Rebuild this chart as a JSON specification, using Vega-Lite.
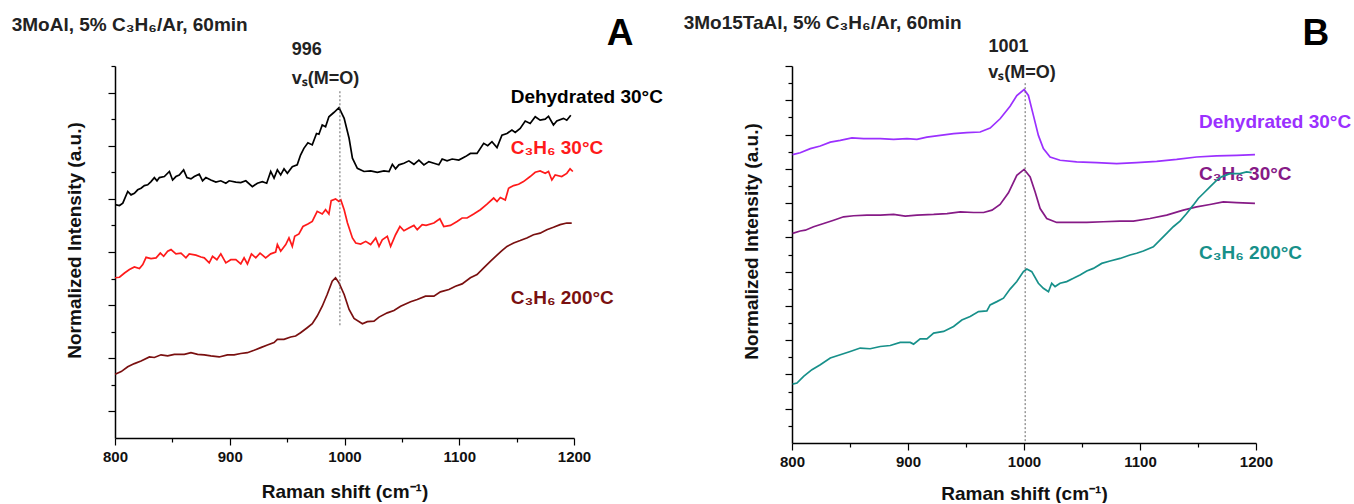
{
"$schema":"https://vega.github.io/schema/vega-lite/v6.json",
"padding":{"left":11,"top":13,"right":0,"bottom":0},
"bounds":"flush",
"spacing":218,
"config":{"view":{"stroke":null},"axis":{"grid":false,"domainColor":"#000","domainWidth":1.5,"tickColor":"#000","tickWidth":1.2,"labelFont":"Liberation Sans","labelFontSize":15,"labelFontWeight":"bold","labelColor":"#111","titleFont":"Liberation Sans","titleFontSize":19,"titleFontWeight":"bold","titleColor":"#111"}},
"resolve":{"scale":{"x":"independent","y":"independent","color":"independent"}},
"datasets":{
"curvesA":[
{"s":"Dehydrated 30°C","x":800.1,"y":8.78},{"s":"Dehydrated 30°C","x":803.9,"y":8.75},{"s":"Dehydrated 30°C","x":806.8,"y":8.84},{"s":"Dehydrated 30°C","x":811.1,"y":9.28},{"s":"Dehydrated 30°C","x":814.0,"y":9.15},{"s":"Dehydrated 30°C","x":816.9,"y":9.21},{"s":"Dehydrated 30°C","x":819.8,"y":9.34},{"s":"Dehydrated 30°C","x":822.7,"y":9.4},{"s":"Dehydrated 30°C","x":825.6,"y":9.5},{"s":"Dehydrated 30°C","x":828.5,"y":9.53},{"s":"Dehydrated 30°C","x":831.4,"y":9.65},{"s":"Dehydrated 30°C","x":834.3,"y":9.8},{"s":"Dehydrated 30°C","x":836.6,"y":9.68},{"s":"Dehydrated 30°C","x":838.7,"y":9.8},{"s":"Dehydrated 30°C","x":843.0,"y":9.84},{"s":"Dehydrated 30°C","x":847.4,"y":10.03},{"s":"Dehydrated 30°C","x":850.2,"y":9.71},{"s":"Dehydrated 30°C","x":853.1,"y":9.84},{"s":"Dehydrated 30°C","x":856.0,"y":9.9},{"s":"Dehydrated 30°C","x":859.8,"y":10.09},{"s":"Dehydrated 30°C","x":862.7,"y":9.8},{"s":"Dehydrated 30°C","x":866.2,"y":9.75},{"s":"Dehydrated 30°C","x":869.1,"y":9.84},{"s":"Dehydrated 30°C","x":873.4,"y":9.93},{"s":"Dehydrated 30°C","x":876.3,"y":9.68},{"s":"Dehydrated 30°C","x":879.2,"y":9.8},{"s":"Dehydrated 30°C","x":883.5,"y":9.71},{"s":"Dehydrated 30°C","x":887.9,"y":9.63},{"s":"Dehydrated 30°C","x":892.2,"y":9.68},{"s":"Dehydrated 30°C","x":896.6,"y":9.59},{"s":"Dehydrated 30°C","x":899.5,"y":9.68},{"s":"Dehydrated 30°C","x":905.3,"y":9.63},{"s":"Dehydrated 30°C","x":909.6,"y":9.61},{"s":"Dehydrated 30°C","x":914.0,"y":9.68},{"s":"Dehydrated 30°C","x":919.7,"y":9.46},{"s":"Dehydrated 30°C","x":924.1,"y":9.59},{"s":"Dehydrated 30°C","x":928.4,"y":9.65},{"s":"Dehydrated 30°C","x":932.2,"y":9.59},{"s":"Dehydrated 30°C","x":935.7,"y":10.03},{"s":"Dehydrated 30°C","x":938.6,"y":9.78},{"s":"Dehydrated 30°C","x":941.5,"y":10.09},{"s":"Dehydrated 30°C","x":944.4,"y":9.9},{"s":"Dehydrated 30°C","x":947.3,"y":10.13},{"s":"Dehydrated 30°C","x":950.2,"y":9.96},{"s":"Dehydrated 30°C","x":954.5,"y":10.21},{"s":"Dehydrated 30°C","x":958.8,"y":10.28},{"s":"Dehydrated 30°C","x":961.7,"y":10.65},{"s":"Dehydrated 30°C","x":964.6,"y":10.9},{"s":"Dehydrated 30°C","x":968.1,"y":11.11},{"s":"Dehydrated 30°C","x":971.9,"y":11.03},{"s":"Dehydrated 30°C","x":975.6,"y":11.46},{"s":"Dehydrated 30°C","x":977.7,"y":11.43},{"s":"Dehydrated 30°C","x":980.6,"y":11.78},{"s":"Dehydrated 30°C","x":983.5,"y":11.71},{"s":"Dehydrated 30°C","x":986.4,"y":12.09},{"s":"Dehydrated 30°C","x":990.7,"y":12.25},{"s":"Dehydrated 30°C","x":995.2,"y":12.43},{"s":"Dehydrated 30°C","x":999.7,"y":12.03},{"s":"Dehydrated 30°C","x":1004.0,"y":11.28},{"s":"Dehydrated 30°C","x":1006.9,"y":10.53},{"s":"Dehydrated 30°C","x":1011.2,"y":10.15},{"s":"Dehydrated 30°C","x":1017.0,"y":10.03},{"s":"Dehydrated 30°C","x":1022.8,"y":10.05},{"s":"Dehydrated 30°C","x":1028.6,"y":10.0},{"s":"Dehydrated 30°C","x":1034.4,"y":10.05},{"s":"Dehydrated 30°C","x":1038.8,"y":10.03},{"s":"Dehydrated 30°C","x":1041.7,"y":10.3},{"s":"Dehydrated 30°C","x":1044.5,"y":10.13},{"s":"Dehydrated 30°C","x":1047.4,"y":10.28},{"s":"Dehydrated 30°C","x":1051.8,"y":10.34},{"s":"Dehydrated 30°C","x":1056.1,"y":10.43},{"s":"Dehydrated 30°C","x":1060.5,"y":10.3},{"s":"Dehydrated 30°C","x":1064.8,"y":10.46},{"s":"Dehydrated 30°C","x":1069.2,"y":10.28},{"s":"Dehydrated 30°C","x":1073.5,"y":10.4},{"s":"Dehydrated 30°C","x":1077.9,"y":10.34},{"s":"Dehydrated 30°C","x":1082.2,"y":10.28},{"s":"Dehydrated 30°C","x":1085.1,"y":10.5},{"s":"Dehydrated 30°C","x":1089.4,"y":10.43},{"s":"Dehydrated 30°C","x":1093.8,"y":10.5},{"s":"Dehydrated 30°C","x":1099.6,"y":10.46},{"s":"Dehydrated 30°C","x":1105.4,"y":10.59},{"s":"Dehydrated 30°C","x":1109.7,"y":10.71},{"s":"Dehydrated 30°C","x":1115.5,"y":10.71},{"s":"Dehydrated 30°C","x":1121.3,"y":11.09},{"s":"Dehydrated 30°C","x":1124.8,"y":11.0},{"s":"Dehydrated 30°C","x":1128.5,"y":11.15},{"s":"Dehydrated 30°C","x":1132.9,"y":10.93},{"s":"Dehydrated 30°C","x":1137.2,"y":11.4},{"s":"Dehydrated 30°C","x":1141.6,"y":11.46},{"s":"Dehydrated 30°C","x":1145.9,"y":11.59},{"s":"Dehydrated 30°C","x":1148.8,"y":11.5},{"s":"Dehydrated 30°C","x":1153.1,"y":11.65},{"s":"Dehydrated 30°C","x":1157.5,"y":11.93},{"s":"Dehydrated 30°C","x":1161.8,"y":11.84},{"s":"Dehydrated 30°C","x":1166.2,"y":12.09},{"s":"Dehydrated 30°C","x":1170.5,"y":11.96},{"s":"Dehydrated 30°C","x":1174.9,"y":12.0},{"s":"Dehydrated 30°C","x":1177.8,"y":12.11},{"s":"Dehydrated 30°C","x":1182.1,"y":11.78},{"s":"Dehydrated 30°C","x":1185.0,"y":11.93},{"s":"Dehydrated 30°C","x":1190.8,"y":12.03},{"s":"Dehydrated 30°C","x":1193.7,"y":11.96},{"s":"Dehydrated 30°C","x":1197.2,"y":12.15},
{"s":"C₃H₆ 30°C","x":800.1,"y":6.03},{"s":"C₃H₆ 30°C","x":803.9,"y":6.05},{"s":"C₃H₆ 30°C","x":808.3,"y":6.21},{"s":"C₃H₆ 30°C","x":812.6,"y":6.34},{"s":"C₃H₆ 30°C","x":816.9,"y":6.44},{"s":"C₃H₆ 30°C","x":821.3,"y":6.38},{"s":"C₃H₆ 30°C","x":824.2,"y":6.53},{"s":"C₃H₆ 30°C","x":827.1,"y":6.8},{"s":"C₃H₆ 30°C","x":831.4,"y":6.75},{"s":"C₃H₆ 30°C","x":835.8,"y":6.78},{"s":"C₃H₆ 30°C","x":839.5,"y":6.96},{"s":"C₃H₆ 30°C","x":842.4,"y":6.84},{"s":"C₃H₆ 30°C","x":845.9,"y":7.03},{"s":"C₃H₆ 30°C","x":848.8,"y":7.09},{"s":"C₃H₆ 30°C","x":853.1,"y":6.93},{"s":"C₃H₆ 30°C","x":857.5,"y":6.96},{"s":"C₃H₆ 30°C","x":861.8,"y":6.78},{"s":"C₃H₆ 30°C","x":864.7,"y":6.93},{"s":"C₃H₆ 30°C","x":870.5,"y":6.88},{"s":"C₃H₆ 30°C","x":874.9,"y":6.81},{"s":"C₃H₆ 30°C","x":877.8,"y":6.78},{"s":"C₃H₆ 30°C","x":882.1,"y":6.59},{"s":"C₃H₆ 30°C","x":885.0,"y":6.84},{"s":"C₃H₆ 30°C","x":888.8,"y":6.71},{"s":"C₃H₆ 30°C","x":892.2,"y":6.93},{"s":"C₃H₆ 30°C","x":896.6,"y":6.59},{"s":"C₃H₆ 30°C","x":900.9,"y":6.71},{"s":"C₃H₆ 30°C","x":905.3,"y":6.71},{"s":"C₃H₆ 30°C","x":909.6,"y":6.55},{"s":"C₃H₆ 30°C","x":912.5,"y":6.78},{"s":"C₃H₆ 30°C","x":915.4,"y":6.55},{"s":"C₃H₆ 30°C","x":918.9,"y":6.93},{"s":"C₃H₆ 30°C","x":922.7,"y":6.78},{"s":"C₃H₆ 30°C","x":926.4,"y":6.96},{"s":"C₃H₆ 30°C","x":931.3,"y":6.78},{"s":"C₃H₆ 30°C","x":935.7,"y":6.93},{"s":"C₃H₆ 30°C","x":940.0,"y":7.0},{"s":"C₃H₆ 30°C","x":941.5,"y":7.28},{"s":"C₃H₆ 30°C","x":944.4,"y":7.03},{"s":"C₃H₆ 30°C","x":948.8,"y":7.28},{"s":"C₃H₆ 30°C","x":951.6,"y":7.53},{"s":"C₃H₆ 30°C","x":954.5,"y":7.21},{"s":"C₃H₆ 30°C","x":956.6,"y":7.59},{"s":"C₃H₆ 30°C","x":960.3,"y":7.68},{"s":"C₃H₆ 30°C","x":963.8,"y":7.96},{"s":"C₃H₆ 30°C","x":968.1,"y":8.05},{"s":"C₃H₆ 30°C","x":971.9,"y":8.15},{"s":"C₃H₆ 30°C","x":976.2,"y":8.53},{"s":"C₃H₆ 30°C","x":980.6,"y":8.43},{"s":"C₃H₆ 30°C","x":983.5,"y":8.59},{"s":"C₃H₆ 30°C","x":986.4,"y":8.43},{"s":"C₃H₆ 30°C","x":988.4,"y":8.93},{"s":"C₃H₆ 30°C","x":992.2,"y":9.0},{"s":"C₃H₆ 30°C","x":995.1,"y":8.9},{"s":"C₃H₆ 30°C","x":996.8,"y":8.96},{"s":"C₃H₆ 30°C","x":999.7,"y":8.59},{"s":"C₃H₆ 30°C","x":1002.6,"y":8.09},{"s":"C₃H₆ 30°C","x":1006.9,"y":7.53},{"s":"C₃H₆ 30°C","x":1009.8,"y":7.34},{"s":"C₃H₆ 30°C","x":1014.1,"y":7.3},{"s":"C₃H₆ 30°C","x":1018.5,"y":7.4},{"s":"C₃H₆ 30°C","x":1022.8,"y":7.28},{"s":"C₃H₆ 30°C","x":1027.2,"y":7.53},{"s":"C₃H₆ 30°C","x":1030.1,"y":7.21},{"s":"C₃H₆ 30°C","x":1032.9,"y":7.46},{"s":"C₃H₆ 30°C","x":1037.3,"y":7.59},{"s":"C₃H₆ 30°C","x":1040.2,"y":7.21},{"s":"C₃H₆ 30°C","x":1044.5,"y":7.65},{"s":"C₃H₆ 30°C","x":1048.3,"y":7.96},{"s":"C₃H₆ 30°C","x":1051.8,"y":7.8},{"s":"C₃H₆ 30°C","x":1056.1,"y":7.9},{"s":"C₃H₆ 30°C","x":1060.5,"y":8.0},{"s":"C₃H₆ 30°C","x":1063.4,"y":7.84},{"s":"C₃H₆ 30°C","x":1067.7,"y":8.03},{"s":"C₃H₆ 30°C","x":1071.1,"y":8.0},{"s":"C₃H₆ 30°C","x":1077.9,"y":8.09},{"s":"C₃H₆ 30°C","x":1083.1,"y":8.25},{"s":"C₃H₆ 30°C","x":1086.5,"y":7.96},{"s":"C₃H₆ 30°C","x":1092.3,"y":8.0},{"s":"C₃H₆ 30°C","x":1098.1,"y":8.15},{"s":"C₃H₆ 30°C","x":1102.5,"y":8.28},{"s":"C₃H₆ 30°C","x":1106.8,"y":8.28},{"s":"C₃H₆ 30°C","x":1112.6,"y":8.43},{"s":"C₃H₆ 30°C","x":1118.4,"y":8.59},{"s":"C₃H₆ 30°C","x":1124.2,"y":8.8},{"s":"C₃H₆ 30°C","x":1130.0,"y":9.03},{"s":"C₃H₆ 30°C","x":1132.9,"y":8.9},{"s":"C₃H₆ 30°C","x":1135.8,"y":9.05},{"s":"C₃H₆ 30°C","x":1140.1,"y":8.96},{"s":"C₃H₆ 30°C","x":1143.0,"y":9.4},{"s":"C₃H₆ 30°C","x":1147.4,"y":9.5},{"s":"C₃H₆ 30°C","x":1151.7,"y":9.55},{"s":"C₃H₆ 30°C","x":1156.0,"y":9.65},{"s":"C₃H₆ 30°C","x":1161.8,"y":9.84},{"s":"C₃H₆ 30°C","x":1166.2,"y":10.0},{"s":"C₃H₆ 30°C","x":1170.5,"y":10.05},{"s":"C₃H₆ 30°C","x":1174.9,"y":9.96},{"s":"C₃H₆ 30°C","x":1177.8,"y":10.03},{"s":"C₃H₆ 30°C","x":1180.7,"y":9.71},{"s":"C₃H₆ 30°C","x":1183.6,"y":9.9},{"s":"C₃H₆ 30°C","x":1189.3,"y":9.84},{"s":"C₃H₆ 30°C","x":1193.7,"y":9.96},{"s":"C₃H₆ 30°C","x":1196.6,"y":10.13},{"s":"C₃H₆ 30°C","x":1199.0,"y":10.03},
{"s":"C₃H₆ 200°C","x":800.1,"y":2.4},{"s":"C₃H₆ 200°C","x":805.4,"y":2.5},{"s":"C₃H₆ 200°C","x":811.1,"y":2.68},{"s":"C₃H₆ 200°C","x":816.9,"y":2.8},{"s":"C₃H₆ 200°C","x":822.7,"y":2.9},{"s":"C₃H₆ 200°C","x":830.0,"y":3.05},{"s":"C₃H₆ 200°C","x":834.3,"y":3.03},{"s":"C₃H₆ 200°C","x":840.1,"y":3.13},{"s":"C₃H₆ 200°C","x":845.9,"y":3.09},{"s":"C₃H₆ 200°C","x":851.7,"y":3.15},{"s":"C₃H₆ 200°C","x":860.4,"y":3.15},{"s":"C₃H₆ 200°C","x":866.2,"y":3.21},{"s":"C₃H₆ 200°C","x":872.0,"y":3.15},{"s":"C₃H₆ 200°C","x":877.8,"y":3.13},{"s":"C₃H₆ 200°C","x":883.5,"y":3.09},{"s":"C₃H₆ 200°C","x":890.8,"y":3.05},{"s":"C₃H₆ 200°C","x":898.0,"y":3.13},{"s":"C₃H₆ 200°C","x":903.8,"y":3.13},{"s":"C₃H₆ 200°C","x":909.6,"y":3.18},{"s":"C₃H₆ 200°C","x":915.4,"y":3.21},{"s":"C₃H₆ 200°C","x":921.2,"y":3.3},{"s":"C₃H₆ 200°C","x":927.0,"y":3.4},{"s":"C₃H₆ 200°C","x":932.8,"y":3.5},{"s":"C₃H₆ 200°C","x":938.6,"y":3.59},{"s":"C₃H₆ 200°C","x":941.5,"y":3.71},{"s":"C₃H₆ 200°C","x":947.3,"y":3.71},{"s":"C₃H₆ 200°C","x":953.1,"y":3.8},{"s":"C₃H₆ 200°C","x":957.4,"y":3.84},{"s":"C₃H₆ 200°C","x":961.7,"y":3.96},{"s":"C₃H₆ 200°C","x":967.5,"y":4.15},{"s":"C₃H₆ 200°C","x":971.9,"y":4.3},{"s":"C₃H₆ 200°C","x":976.2,"y":4.59},{"s":"C₃H₆ 200°C","x":980.6,"y":4.96},{"s":"C₃H₆ 200°C","x":984.9,"y":5.4},{"s":"C₃H₆ 200°C","x":989.3,"y":5.9},{"s":"C₃H₆ 200°C","x":992.2,"y":6.03},{"s":"C₃H₆ 200°C","x":995.2,"y":5.84},{"s":"C₃H₆ 200°C","x":999.7,"y":5.4},{"s":"C₃H₆ 200°C","x":1004.0,"y":4.84},{"s":"C₃H₆ 200°C","x":1008.3,"y":4.5},{"s":"C₃H₆ 200°C","x":1015.6,"y":4.3},{"s":"C₃H₆ 200°C","x":1019.9,"y":4.38},{"s":"C₃H₆ 200°C","x":1025.7,"y":4.4},{"s":"C₃H₆ 200°C","x":1030.1,"y":4.55},{"s":"C₃H₆ 200°C","x":1037.3,"y":4.71},{"s":"C₃H₆ 200°C","x":1043.1,"y":4.8},{"s":"C₃H₆ 200°C","x":1048.9,"y":4.96},{"s":"C₃H₆ 200°C","x":1057.6,"y":5.13},{"s":"C₃H₆ 200°C","x":1063.4,"y":5.21},{"s":"C₃H₆ 200°C","x":1070.6,"y":5.34},{"s":"C₃H₆ 200°C","x":1077.9,"y":5.34},{"s":"C₃H₆ 200°C","x":1083.6,"y":5.5},{"s":"C₃H₆ 200°C","x":1091.0,"y":5.59},{"s":"C₃H₆ 200°C","x":1096.7,"y":5.71},{"s":"C₃H₆ 200°C","x":1102.5,"y":5.8},{"s":"C₃H₆ 200°C","x":1109.7,"y":6.03},{"s":"C₃H₆ 200°C","x":1115.5,"y":6.15},{"s":"C₃H₆ 200°C","x":1121.3,"y":6.4},{"s":"C₃H₆ 200°C","x":1127.1,"y":6.65},{"s":"C₃H₆ 200°C","x":1132.9,"y":6.88},{"s":"C₃H₆ 200°C","x":1137.2,"y":7.05},{"s":"C₃H₆ 200°C","x":1141.6,"y":7.21},{"s":"C₃H₆ 200°C","x":1147.4,"y":7.34},{"s":"C₃H₆ 200°C","x":1153.1,"y":7.43},{"s":"C₃H₆ 200°C","x":1158.9,"y":7.53},{"s":"C₃H₆ 200°C","x":1164.7,"y":7.65},{"s":"C₃H₆ 200°C","x":1170.5,"y":7.71},{"s":"C₃H₆ 200°C","x":1176.3,"y":7.84},{"s":"C₃H₆ 200°C","x":1182.1,"y":7.93},{"s":"C₃H₆ 200°C","x":1187.9,"y":8.03},{"s":"C₃H₆ 200°C","x":1193.7,"y":8.09},{"s":"C₃H₆ 200°C","x":1198.0,"y":8.09}
],
"curvesB":[
{"s":"Dehydrated 30°C","x":800.5,"y":16.83},{"s":"Dehydrated 30°C","x":807.1,"y":16.94},{"s":"Dehydrated 30°C","x":815.8,"y":17.18},{"s":"Dehydrated 30°C","x":824.4,"y":17.33},{"s":"Dehydrated 30°C","x":833.0,"y":17.56},{"s":"Dehydrated 30°C","x":841.6,"y":17.66},{"s":"Dehydrated 30°C","x":851.7,"y":17.8},{"s":"Dehydrated 30°C","x":861.7,"y":17.76},{"s":"Dehydrated 30°C","x":876.1,"y":17.76},{"s":"Dehydrated 30°C","x":887.6,"y":17.72},{"s":"Dehydrated 30°C","x":899.1,"y":17.76},{"s":"Dehydrated 30°C","x":907.7,"y":17.72},{"s":"Dehydrated 30°C","x":916.3,"y":17.85},{"s":"Dehydrated 30°C","x":927.8,"y":17.95},{"s":"Dehydrated 30°C","x":939.3,"y":18.05},{"s":"Dehydrated 30°C","x":950.7,"y":18.11},{"s":"Dehydrated 30°C","x":962.2,"y":18.15},{"s":"Dehydrated 30°C","x":970.8,"y":18.38},{"s":"Dehydrated 30°C","x":979.4,"y":18.92},{"s":"Dehydrated 30°C","x":988.0,"y":19.65},{"s":"Dehydrated 30°C","x":993.8,"y":20.28},{"s":"Dehydrated 30°C","x":1000.1,"y":20.63},{"s":"Dehydrated 30°C","x":1003.8,"y":20.28},{"s":"Dehydrated 30°C","x":1008.1,"y":19.12},{"s":"Dehydrated 30°C","x":1012.4,"y":17.95},{"s":"Dehydrated 30°C","x":1016.7,"y":17.18},{"s":"Dehydrated 30°C","x":1022.5,"y":16.69},{"s":"Dehydrated 30°C","x":1031.1,"y":16.5},{"s":"Dehydrated 30°C","x":1045.4,"y":16.4},{"s":"Dehydrated 30°C","x":1062.7,"y":16.36},{"s":"Dehydrated 30°C","x":1079.9,"y":16.3},{"s":"Dehydrated 30°C","x":1097.1,"y":16.36},{"s":"Dehydrated 30°C","x":1114.4,"y":16.44},{"s":"Dehydrated 30°C","x":1131.6,"y":16.55},{"s":"Dehydrated 30°C","x":1148.8,"y":16.69},{"s":"Dehydrated 30°C","x":1166.0,"y":16.75},{"s":"Dehydrated 30°C","x":1183.3,"y":16.79},{"s":"Dehydrated 30°C","x":1199.1,"y":16.83},
{"s":"C₃H₆ 30°C","x":800.5,"y":12.23},{"s":"C₃H₆ 30°C","x":807.1,"y":12.37},{"s":"C₃H₆ 30°C","x":811.5,"y":12.42},{"s":"C₃H₆ 30°C","x":818.6,"y":12.62},{"s":"C₃H₆ 30°C","x":827.3,"y":12.81},{"s":"C₃H₆ 30°C","x":835.9,"y":13.0},{"s":"C₃H₆ 30°C","x":844.5,"y":13.2},{"s":"C₃H₆ 30°C","x":853.1,"y":13.26},{"s":"C₃H₆ 30°C","x":864.6,"y":13.3},{"s":"C₃H₆ 30°C","x":876.1,"y":13.3},{"s":"C₃H₆ 30°C","x":887.6,"y":13.34},{"s":"C₃H₆ 30°C","x":897.6,"y":13.24},{"s":"C₃H₆ 30°C","x":907.7,"y":13.3},{"s":"C₃H₆ 30°C","x":922.1,"y":13.34},{"s":"C₃H₆ 30°C","x":933.6,"y":13.39},{"s":"C₃H₆ 30°C","x":945.1,"y":13.49},{"s":"C₃H₆ 30°C","x":956.6,"y":13.45},{"s":"C₃H₆ 30°C","x":965.2,"y":13.45},{"s":"C₃H₆ 30°C","x":972.4,"y":13.59},{"s":"C₃H₆ 30°C","x":979.4,"y":13.92},{"s":"C₃H₆ 30°C","x":986.6,"y":14.6},{"s":"C₃H₆ 30°C","x":993.8,"y":15.62},{"s":"C₃H₆ 30°C","x":1000.1,"y":15.97},{"s":"C₃H₆ 30°C","x":1005.3,"y":15.53},{"s":"C₃H₆ 30°C","x":1009.6,"y":14.65},{"s":"C₃H₆ 30°C","x":1013.9,"y":13.68},{"s":"C₃H₆ 30°C","x":1019.6,"y":13.1},{"s":"C₃H₆ 30°C","x":1028.2,"y":12.87},{"s":"C₃H₆ 30°C","x":1039.7,"y":12.87},{"s":"C₃H₆ 30°C","x":1054.1,"y":12.87},{"s":"C₃H₆ 30°C","x":1068.4,"y":12.91},{"s":"C₃H₆ 30°C","x":1082.8,"y":12.95},{"s":"C₃H₆ 30°C","x":1094.3,"y":12.95},{"s":"C₃H₆ 30°C","x":1108.6,"y":13.1},{"s":"C₃H₆ 30°C","x":1123.0,"y":13.3},{"s":"C₃H₆ 30°C","x":1137.3,"y":13.59},{"s":"C₃H₆ 30°C","x":1148.8,"y":13.78},{"s":"C₃H₆ 30°C","x":1160.3,"y":13.92},{"s":"C₃H₆ 30°C","x":1171.8,"y":14.07},{"s":"C₃H₆ 30°C","x":1183.3,"y":14.03},{"s":"C₃H₆ 30°C","x":1199.1,"y":13.98},
{"s":"C₃H₆ 200°C","x":800.5,"y":3.44},{"s":"C₃H₆ 200°C","x":804.3,"y":3.5},{"s":"C₃H₆ 200°C","x":810.0,"y":3.89},{"s":"C₃H₆ 200°C","x":817.2,"y":4.28},{"s":"C₃H₆ 200°C","x":824.4,"y":4.57},{"s":"C₃H₆ 200°C","x":833.0,"y":4.96},{"s":"C₃H₆ 200°C","x":841.6,"y":5.15},{"s":"C₃H₆ 200°C","x":850.2,"y":5.34},{"s":"C₃H₆ 200°C","x":858.8,"y":5.54},{"s":"C₃H₆ 200°C","x":867.4,"y":5.5},{"s":"C₃H₆ 200°C","x":876.1,"y":5.63},{"s":"C₃H₆ 200°C","x":884.7,"y":5.69},{"s":"C₃H₆ 200°C","x":893.3,"y":5.87},{"s":"C₃H₆ 200°C","x":901.9,"y":5.87},{"s":"C₃H₆ 200°C","x":904.8,"y":5.77},{"s":"C₃H₆ 200°C","x":910.5,"y":6.08},{"s":"C₃H₆ 200°C","x":916.3,"y":6.08},{"s":"C₃H₆ 200°C","x":922.1,"y":6.41},{"s":"C₃H₆ 200°C","x":930.7,"y":6.51},{"s":"C₃H₆ 200°C","x":939.3,"y":6.8},{"s":"C₃H₆ 200°C","x":946.4,"y":7.18},{"s":"C₃H₆ 200°C","x":953.6,"y":7.38},{"s":"C₃H₆ 200°C","x":960.8,"y":7.67},{"s":"C₃H₆ 200°C","x":968.0,"y":7.71},{"s":"C₃H₆ 200°C","x":970.8,"y":8.06},{"s":"C₃H₆ 200°C","x":976.6,"y":8.25},{"s":"C₃H₆ 200°C","x":982.3,"y":8.45},{"s":"C₃H₆ 200°C","x":988.0,"y":8.98},{"s":"C₃H₆ 200°C","x":993.8,"y":9.42},{"s":"C₃H₆ 200°C","x":999.5,"y":10.0},{"s":"C₃H₆ 200°C","x":1002.4,"y":10.15},{"s":"C₃H₆ 200°C","x":1006.7,"y":10.0},{"s":"C₃H₆ 200°C","x":1012.4,"y":9.32},{"s":"C₃H₆ 200°C","x":1016.7,"y":9.03},{"s":"C₃H₆ 200°C","x":1021.1,"y":8.83},{"s":"C₃H₆ 200°C","x":1023.9,"y":9.32},{"s":"C₃H₆ 200°C","x":1026.8,"y":9.13},{"s":"C₃H₆ 200°C","x":1031.1,"y":9.32},{"s":"C₃H₆ 200°C","x":1036.8,"y":9.42},{"s":"C₃H₆ 200°C","x":1042.6,"y":9.61},{"s":"C₃H₆ 200°C","x":1048.3,"y":9.81},{"s":"C₃H₆ 200°C","x":1054.1,"y":10.04},{"s":"C₃H₆ 200°C","x":1059.8,"y":10.19},{"s":"C₃H₆ 200°C","x":1067.0,"y":10.48},{"s":"C₃H₆ 200°C","x":1074.2,"y":10.62},{"s":"C₃H₆ 200°C","x":1082.8,"y":10.77},{"s":"C₃H₆ 200°C","x":1091.4,"y":10.97},{"s":"C₃H₆ 200°C","x":1097.1,"y":11.07},{"s":"C₃H₆ 200°C","x":1102.9,"y":11.2},{"s":"C₃H₆ 200°C","x":1111.5,"y":11.45},{"s":"C₃H₆ 200°C","x":1117.2,"y":11.84},{"s":"C₃H₆ 200°C","x":1123.0,"y":12.23},{"s":"C₃H₆ 200°C","x":1128.7,"y":12.62},{"s":"C₃H₆ 200°C","x":1134.5,"y":12.95},{"s":"C₃H₆ 200°C","x":1140.2,"y":13.39},{"s":"C₃H₆ 200°C","x":1145.9,"y":13.88},{"s":"C₃H₆ 200°C","x":1150.2,"y":14.27},{"s":"C₃H₆ 200°C","x":1154.6,"y":14.56},{"s":"C₃H₆ 200°C","x":1160.3,"y":14.95},{"s":"C₃H₆ 200°C","x":1166.0,"y":15.33},{"s":"C₃H₆ 200°C","x":1170.3,"y":15.53},{"s":"C₃H₆ 200°C","x":1177.5,"y":15.72},{"s":"C₃H₆ 200°C","x":1186.1,"y":15.72},{"s":"C₃H₆ 200°C","x":1191.9,"y":15.82},{"s":"C₃H₆ 200°C","x":1196.2,"y":15.78}
],
"ruleA":[{"x":996,"y":13.05,"y2":4.2}],
"ruleB":[{"x":1001,"y":21.0,"y2":0}],
"labelsA":[{"s":"Dehydrated 30°C","x":1144.8,"y":12.82},{"s":"C₃H₆ 30°C","x":1144.8,"y":10.91},{"s":"C₃H₆ 200°C","x":1144.8,"y":5.28}],
"labelsB":[{"s":"Dehydrated 30°C","x":1150.8,"y":18.76},{"s":"C₃H₆ 30°C","x":1150.8,"y":15.72},{"s":"C₃H₆ 200°C","x":1150.8,"y":11.09}],
"titleA":[{"text":"3MoAl, 5% C₃H₆/Ar, 60min","x":710,"y":15.55}],
"titleB":[{"text":"3Mo15TaAl, 5% C₃H₆/Ar, 60min","x":706.6,"y":24.53}],
"peakA":[{"text":"996","x":954,"y":14.6},{"text":"vₛ(M=O)","x":954,"y":13.51}],
"peakB":[{"text":"1001","x":969.3,"y":23.13},{"text":"vₛ(M=O)","x":969.1,"y":21.61}],
"letterA":[{"text":"A","x":1240.1,"y":15.22}],
"letterB":[{"text":"B","x":1251.6,"y":23.85}]
},
"hconcat":[
{
"width":459,"height":372,
"encoding":{
"x":{"field":"x","type":"quantitative","scale":{"domain":[800,1200],"nice":false},"axis":{"values":[800,850,900,950,1000,1050,1100,1150,1200],"format":"d","labelExpr":"datum.value % 100 === 0 ? datum.label : ''","tickSize":{"condition":{"test":"datum.value % 100 === 0","value":7},"value":4},"labelPadding":4,"labelFlush":false,"title":"Raman shift (cm⁻¹)","titleX":229.5,"titleY":59.5,"titleBaseline":"alphabetic"}},
"y":{"field":"y","type":"quantitative","scale":{"domain":[0,14],"nice":false,"zero":false},"axis":{"values":[1,2,3,4,5,6,7,8,9,10,11,12,13,14],"labels":false,"tickSize":{"condition":{"test":"datum.value % 2 === 1","value":7},"value":4},"title":"Normalized Intensity (a.u.)","titleX":-35,"titleY":174,"titleBaseline":"alphabetic","titleAngle":-90}}
},
"layer":[
{"data":{"name":"labelsA"},"mark":{"type":"text","align":"left","baseline":"middle","font":"Liberation Sans","fontSize":19,"fontWeight":"bold"},"encoding":{"text":{"field":"s"},"color":{"field":"s","type":"nominal","scale":{"domain":["Dehydrated 30°C","C₃H₆ 30°C","C₃H₆ 200°C"],"range":["#000000","#ff1a1a","#7a1010"]},"legend":null}}},
{"data":{"name":"curvesA"},"mark":{"type":"line","strokeWidth":1.7},"encoding":{"color":{"field":"s","type":"nominal","legend":null}}},
{"data":{"name":"ruleA"},"mark":{"type":"rule","strokeDash":[2,2],"color":"#666","strokeWidth":1},"encoding":{"y2":{"field":"y2"}}},
{"data":{"name":"titleA"},"mark":{"type":"text","align":"left","baseline":"middle","font":"Liberation Sans","fontSize":19,"fontWeight":"bold","color":"#222"},"encoding":{"text":{"field":"text"}}},
{"data":{"name":"peakA"},"mark":{"type":"text","align":"left","baseline":"middle","font":"Liberation Sans","fontSize":18,"fontWeight":"bold","color":"#222"},"encoding":{"text":{"field":"text"}}},
{"data":{"name":"letterA"},"mark":{"type":"text","align":"center","baseline":"middle","font":"Liberation Sans","fontSize":37,"fontWeight":"bold","color":"#000"},"encoding":{"text":{"field":"text"}}}
]
},
{
"width":464,"height":377,
"encoding":{
"x":{"field":"x","type":"quantitative","scale":{"domain":[800,1200],"nice":false},"axis":{"values":[800,850,900,950,1000,1050,1100,1150,1200],"format":"d","labelExpr":"datum.value % 100 === 0 ? datum.label : ''","tickSize":{"condition":{"test":"datum.value % 100 === 0","value":7},"value":4},"labelPadding":4,"labelFlush":false,"title":"Raman shift (cm⁻¹)","titleX":232,"titleY":56,"titleBaseline":"alphabetic"}},
"y":{"field":"y","type":"quantitative","scale":{"domain":[0,22],"nice":false,"zero":false},"axis":{"values":[1,2,3,4,5,6,7,8,9,10,11,12,13,14,15,16,17,18,19,20,21,22],"labels":false,"tickSize":{"condition":{"test":"datum.value % 2 === 0","value":7},"value":4},"title":"Normalized Intensity (a.u.)","titleX":-35,"titleY":175,"titleBaseline":"alphabetic","titleAngle":-90}}
},
"layer":[
{"data":{"name":"labelsB"},"mark":{"type":"text","align":"left","baseline":"middle","font":"Liberation Sans","fontSize":19,"fontWeight":"bold"},"encoding":{"text":{"field":"s"},"color":{"field":"s","type":"nominal","scale":{"domain":["Dehydrated 30°C","C₃H₆ 30°C","C₃H₆ 200°C"],"range":["#9b30ff","#861a86","#17908a"]},"legend":null}}},
{"data":{"name":"curvesB"},"mark":{"type":"line","strokeWidth":1.7},"encoding":{"color":{"field":"s","type":"nominal","legend":null}}},
{"data":{"name":"ruleB"},"mark":{"type":"rule","strokeDash":[2,2],"color":"#666","strokeWidth":1},"encoding":{"y2":{"field":"y2"}}},
{"data":{"name":"titleB"},"mark":{"type":"text","align":"left","baseline":"middle","font":"Liberation Sans","fontSize":19,"fontWeight":"bold","color":"#222"},"encoding":{"text":{"field":"text"}}},
{"data":{"name":"peakB"},"mark":{"type":"text","align":"left","baseline":"middle","font":"Liberation Sans","fontSize":18,"fontWeight":"bold","color":"#222"},"encoding":{"text":{"field":"text"}}},
{"data":{"name":"letterB"},"mark":{"type":"text","align":"center","baseline":"middle","font":"Liberation Sans","fontSize":37,"fontWeight":"bold","color":"#000"},"encoding":{"text":{"field":"text"}}}
]
}
]
}
